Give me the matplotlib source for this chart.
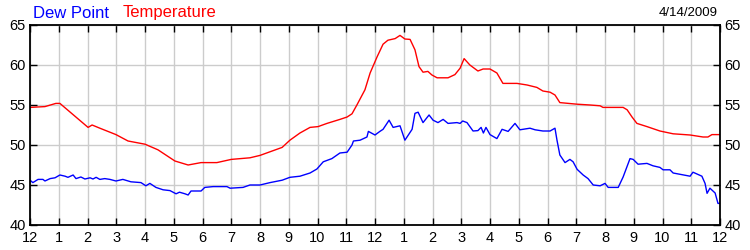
import matplotlib.pyplot as plt

plt.rcParams['font.family'] = ['Liberation Sans', 'DejaVu Sans']

# readings, hours since midnight
temp_hours = [0, 0.52, 0.9, 1.04, 2.02, 2.16, 2.43, 2.99, 3.41, 4.0, 4.45, 5.04, 5.5, 5.95,
              6.5, 7.0, 7.65, 8.0, 8.77, 9.04, 9.39, 9.74, 10.02, 10.33, 10.78, 11.03, 11.2,
              11.37, 11.65, 11.83, 12.07, 12.28, 12.45, 12.7, 12.87, 13.04, 13.22, 13.39,
              13.53, 13.67, 13.84, 13.98, 14.16, 14.54, 14.78, 14.96, 15.1, 15.3, 15.58,
              15.76, 16.0, 16.24, 16.45, 16.94, 17.29, 17.63, 17.84, 18.09, 18.26, 18.43,
              19.03, 19.48, 19.83, 19.93, 20.63, 20.77, 20.94, 21.11, 21.46, 21.91, 22.37,
              22.96, 23.41, 23.58, 23.72, 24.0]
temperature = [54.7, 54.8, 55.2, 55.2, 52.2, 52.5, 52.1, 51.3, 50.5, 50.1, 49.4, 48.0, 47.5, 47.8,
               47.8, 48.2, 48.4, 48.7, 49.7, 50.6, 51.5, 52.2, 52.3, 52.7, 53.2, 53.5, 53.9,
               55.0, 56.9, 59.0, 61.0, 62.6, 63.1, 63.3, 63.7, 63.25, 63.2, 61.9,
               59.8, 59.1, 59.2, 58.75, 58.4, 58.4, 58.8, 59.6, 60.8, 60.0, 59.25,
               59.5, 59.5, 59.0, 57.7, 57.7, 57.5, 57.2, 56.75, 56.6, 56.25, 55.3,
               55.1, 55.0, 54.9, 54.7, 54.7, 54.4, 53.5, 52.7, 52.3, 51.75, 51.4,
               51.25, 51.0, 51.0, 51.3, 51.3]

dew_hours = [0, 0.1, 0.28, 0.45, 0.52, 0.7, 0.87, 1.04, 1.22, 1.32, 1.5, 1.6, 1.77, 1.91, 2.09,
             2.19, 2.3, 2.43, 2.6, 2.78, 2.99, 3.23, 3.51, 3.86, 4.03, 4.17, 4.38, 4.63, 4.87,
             5.08, 5.2, 5.39, 5.5, 5.6, 5.95, 6.08, 6.37, 6.85, 6.96, 7.41, 7.65, 8.0, 8.35,
             8.77, 9.04, 9.39, 9.74, 9.98, 10.2, 10.5, 10.78, 11.03, 11.2, 11.25, 11.48,
             11.72, 11.77, 12.0, 12.17, 12.28, 12.38, 12.49, 12.63, 12.87, 13.04, 13.29,
             13.39, 13.5, 13.67, 13.88, 14.02, 14.19, 14.37, 14.54, 14.85, 14.96, 15.05,
             15.2, 15.41, 15.58, 15.69, 15.77, 15.86, 16.0, 16.24, 16.42, 16.63, 16.87,
             17.04, 17.39, 17.57, 17.84, 18.09, 18.26, 18.33, 18.43, 18.61, 18.78, 18.89,
             19.03, 19.24, 19.41, 19.59, 19.83, 20.0, 20.11, 20.46, 20.63, 20.87, 20.98,
             21.15, 21.46, 21.67, 21.91, 22.02, 22.26, 22.37, 22.96, 23.06, 23.37, 23.48,
             23.55, 23.65, 23.83, 23.93, 24.0]
dew_point = [45.6, 45.3, 45.7, 45.7, 45.5, 45.8, 45.9, 46.25, 46.1, 45.96, 46.25, 45.8, 46.0, 45.75, 45.9,
             45.75, 45.96, 45.7, 45.8, 45.7, 45.5, 45.7, 45.4, 45.3, 44.9, 45.2, 44.7, 44.4, 44.3,
             43.9, 44.1, 43.9, 43.75, 44.25, 44.25, 44.7, 44.8, 44.8, 44.6, 44.7, 45.0, 45.0, 45.3,
             45.6, 45.96, 46.1, 46.5, 47.0, 47.9, 48.3, 49.0, 49.1, 50.0, 50.5, 50.6,
             51.0, 51.7, 51.25, 51.7, 51.96, 52.5, 53.1, 52.2, 52.4, 50.6, 51.96,
             53.96, 54.1, 52.8, 53.75, 53.1, 52.8, 53.2, 52.7, 52.8, 52.7, 53.0,
             52.8, 51.75, 51.8, 52.2, 51.5, 52.2, 51.3, 50.8, 51.96, 51.7, 52.7,
             51.9, 52.1, 51.9, 51.75, 51.75, 52.1, 50.6, 48.75, 47.8, 48.2, 47.9,
             46.96, 46.25, 45.8, 45.0, 44.9, 45.2, 44.7, 44.7, 46.0, 48.3, 48.2,
             47.6, 47.7, 47.4, 47.2, 46.9, 46.9, 46.5, 46.1, 46.6, 46.1, 45.2,
             43.96, 44.6, 44.0, 42.7, 42.7]

hour_labels = ['12'] + [str(h) for h in range(1, 12)] + ['12'] + [str(h) for h in range(1, 12)] + ['12']
y_ticks = [40, 45, 50, 55, 60, 65]

fig = plt.figure(figsize=(7.5, 2.5), dpi=100)
ax = fig.add_axes([0.04, 0.1, 0.92, 0.8])

ax.plot(dew_hours, dew_point, color='#0000ff', linewidth=1)
ax.plot(temp_hours, temperature, color='#ff0000', linewidth=1)

ax.set_xlim(0, 24)
ax.set_ylim(40, 65)
ax.set_xticks(range(25))
ax.set_xticklabels(hour_labels)
ax.set_yticks(y_ticks)
ax.grid(True, color='#cccccc', linewidth=1)
ax.set_axisbelow(True)

ax.tick_params(direction='in', length=5, width=1, top=True, right=True,
               labelright=True, labelsize=10.5, pad=3)
ax.tick_params(axis='x', pad=4)
for s in ax.spines.values():
    s.set_linewidth(1.3)

fig.text(0.044, 0.93, 'Dew Point', color='#0000ff', fontsize=12)
fig.text(0.164, 0.93, 'Temperature', color='#ff0000', fontsize=12)
fig.text(0.957, 0.935, '4/14/2009', color='black', fontsize=9.5, ha='right')

plt.savefig('out.png', dpi=100)
